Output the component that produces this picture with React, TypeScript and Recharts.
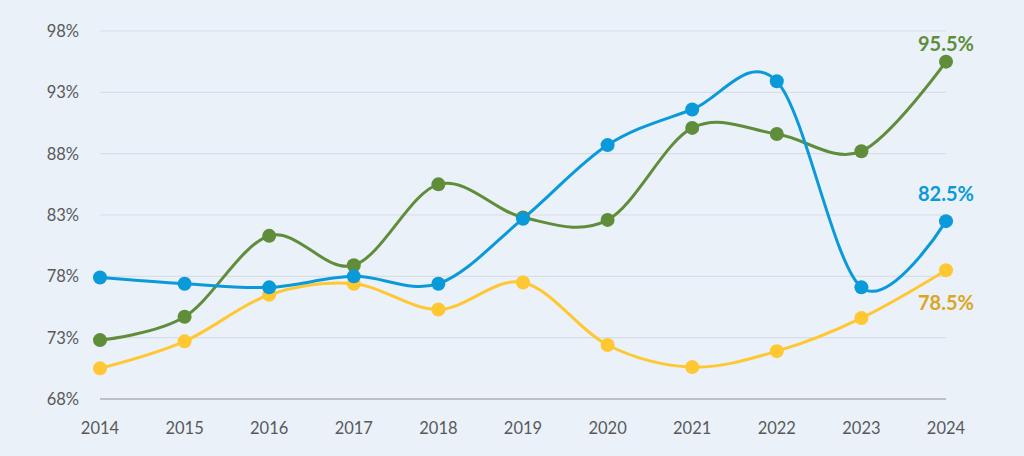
import { CartesianGrid, Line, LineChart, XAxis, YAxis } from 'recharts'

const years = ['2014', '2015', '2016', '2017', '2018', '2019', '2020', '2021', '2022', '2023', '2024']
const blueValues = [77.9, 77.4, 77.1, 78.0, 77.4, 82.7, 88.7, 91.6, 93.9, 77.1, 82.5]
const greenValues = [72.8, 74.7, 81.3, 78.9, 85.5, 82.8, 82.6, 90.1, 89.6, 88.2, 95.5]
const yellowValues = [70.5, 72.7, 76.5, 77.4, 75.3, 77.5, 72.4, 70.6, 71.9, 74.6, 78.5]
const yTicks = [68, 73, 78, 83, 88, 93, 98]

const data = years.map((year, i) => ({
  year,
  blue: blueValues[i],
  green: greenValues[i],
  yellow: yellowValues[i],
}))

const BLUE = '#0A9AD9'
const GREEN = '#5F8D3A'
const YELLOW = '#FFC832'
const FONT = 'Lato, "Open Sans", sans-serif'

// catmull-rom style smoothing, like the spreadsheet "smoothed line"
function smoothCurve(context: any) {
  const k = 1 / 6
  let x0 = NaN, x1 = NaN, x2 = NaN, y0 = NaN, y1 = NaN, y2 = NaN
  let pt = 0
  const seg = (x: number, y: number) => {
    context.bezierCurveTo(x1 + k * (x2 - x0), y1 + k * (y2 - y0), x2 + k * (x1 - x), y2 + k * (y1 - y), x2, y2)
  }
  return {
    areaStart() {},
    areaEnd() {},
    lineStart() {
      x0 = x1 = x2 = y0 = y1 = y2 = NaN
      pt = 0
    },
    lineEnd() {
      if (pt === 2) context.lineTo(x2, y2)
      else if (pt === 3) seg(x1, y1)
    },
    point(x: number, y: number) {
      x = +x
      y = +y
      if (pt === 0) {
        pt = 1
        context.moveTo(x, y)
      } else if (pt === 1) {
        pt = 2
        x1 = x
        y1 = y
      } else {
        pt = 3
        seg(x, y)
      }
      x0 = x1; x1 = x2; x2 = x
      y0 = y1; y1 = y2; y2 = y
    },
  }
}

function lastLabel(color: string, dy: number) {
  return (props: any) => {
    const { x, y, value, index } = props
    if (index !== years.length - 1) return null
    return (
      <text x={x} y={y + dy} fill={color} textAnchor="middle" fontSize={20} fontWeight={700} fontFamily={FONT}>
        {value.toFixed(1)}%
      </text>
    )
  }
}

export default function App() {
  return (
    <div style={{ position: 'absolute', left: 0, top: 0, width: 1024, height: 456, background: '#EAF1F9' }}>
      <LineChart width={1024} height={456} data={data} margin={{ top: 31, right: 78, left: 0, bottom: 17 }}>
        <CartesianGrid vertical={false} stroke="#D8DEE8" strokeWidth={1.2} />
        <XAxis
          dataKey="year"
          padding={{ left: 0, right: 0 }}
          tickLine={false}
          axisLine={{ stroke: '#AEB3BA', strokeWidth: 1.5 }}
          tick={{ fill: '#595959', fontSize: 16.5, fontFamily: FONT }}
          tickMargin={17}
          height={40}
        />
        <YAxis
          domain={[68, 98]}
          ticks={yTicks}
          tickFormatter={(v) => `${v}%`}
          tickLine={false}
          axisLine={false}
          tick={{ fill: '#595959', fontSize: 16.5, fontFamily: FONT }}
          tickMargin={15}
          width={100}
        />
        <Line
          dataKey="yellow"
          type={smoothCurve as any}
          stroke={YELLOW}
          strokeWidth={3}
          dot={{ r: 7, fill: YELLOW, stroke: YELLOW, strokeWidth: 0 }}
          activeDot={false}
          isAnimationActive={false}
          label={lastLabel('#DBA622', 40)}
        />
        <Line
          dataKey="green"
          type={smoothCurve as any}
          stroke={GREEN}
          strokeWidth={3}
          dot={{ r: 7, fill: GREEN, stroke: GREEN, strokeWidth: 0 }}
          activeDot={false}
          isAnimationActive={false}
          label={lastLabel(GREEN, -11)}
        />
        <Line
          dataKey="blue"
          type={smoothCurve as any}
          stroke={BLUE}
          strokeWidth={3}
          dot={{ r: 7, fill: BLUE, stroke: BLUE, strokeWidth: 0 }}
          activeDot={false}
          isAnimationActive={false}
          label={lastLabel(BLUE, -20)}
        />
      </LineChart>
    </div>
  )
}
